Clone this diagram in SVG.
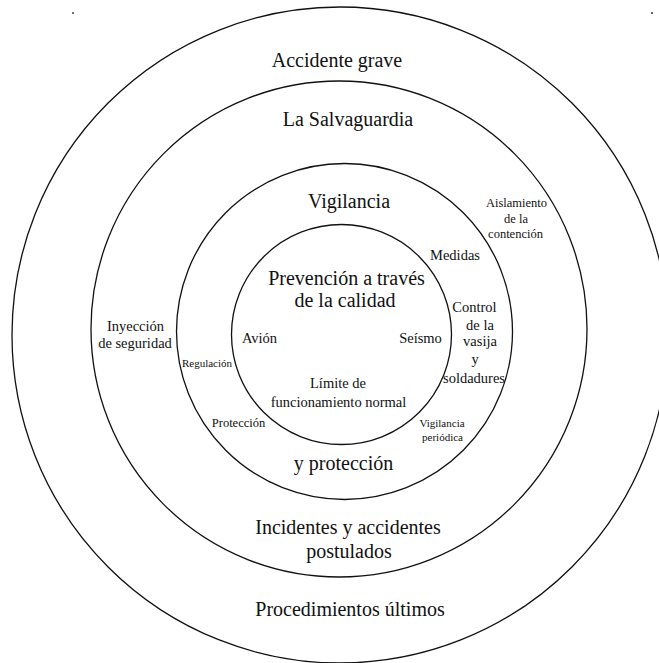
<svg xmlns="http://www.w3.org/2000/svg" width="659" height="663" viewBox="0 0 659 663">
  <style>
    .ring { fill: none; stroke: #111; stroke-width: 1.3; }
    text { font-family: "Liberation Serif", "DejaVu Serif", serif; fill: #111; text-anchor: middle; }
    .big { font-size: 20px; }
    .mid { font-size: 14.5px; }
    .sm { font-size: 12.5px; }
    .xs { font-size: 11px; }
  </style>
  <rect width="659" height="663" fill="#fff"/>
  <g id="specks">
    <circle cx="73" cy="13" r="0.9" fill="#333"/>
    <circle cx="652" cy="13" r="1" fill="#333"/>
  </g>
  <g id="ring-accidente-grave">
    <circle class="ring" cx="340" cy="335" r="328"/>
    <text class="big" x="337" y="67">Accidente grave</text>
    <text class="big" x="350" y="616">Procedimientos últimos</text>
  </g>
  <g id="ring-salvaguardia">
    <circle class="ring" cx="339" cy="329" r="248"/>
    <text class="big" x="348" y="126">La Salvaguardia</text>
    <text class="big" x="348" y="534">Incidentes y accidentes</text>
    <text class="big" x="349" y="558">postulados</text>
    <text class="mid" x="135.5" y="331">Inyección</text>
    <text class="mid" x="135" y="348">de seguridad</text>
    <text class="sm" x="516.5" y="207">Aislamiento</text>
    <text class="sm" x="516" y="223">de la</text>
    <text class="sm" x="515.5" y="238">contención</text>
  </g>
  <g id="ring-vigilancia">
    <circle class="ring" cx="344.5" cy="331.5" r="168"/>
    <text class="big" x="349" y="208">Vigilancia</text>
    <text class="big" x="343.5" y="470">y protección</text>
    <text class="mid" x="455" y="260">Medidas</text>
    <text class="mid" x="474.5" y="312">Control</text>
    <text class="mid" x="480" y="330">de la</text>
    <text class="mid" x="480" y="346">vasija</text>
    <text class="mid" x="475" y="364">y</text>
    <text class="mid" x="474" y="383">soldadures</text>
    <text class="xs" x="207" y="367">Regulación</text>
    <text class="sm" x="238.5" y="427">Protección</text>
    <text class="xs" x="442" y="427">Vigilancia</text>
    <text class="xs" x="442.5" y="441">periódica</text>
  </g>
  <g id="ring-prevencion">
    <circle class="ring" cx="341.5" cy="334.5" r="110"/>
    <text class="big" x="346.5" y="285">Prevención a través</text>
    <text class="big" x="345" y="307">de la calidad</text>
    <text class="mid" x="259.5" y="343">Avión</text>
    <text class="mid" x="420.5" y="343">Seísmo</text>
    <text class="mid" x="338" y="388">Límite de</text>
    <text class="mid" x="338.5" y="407">funcionamiento normal</text>
  </g>
</svg>
